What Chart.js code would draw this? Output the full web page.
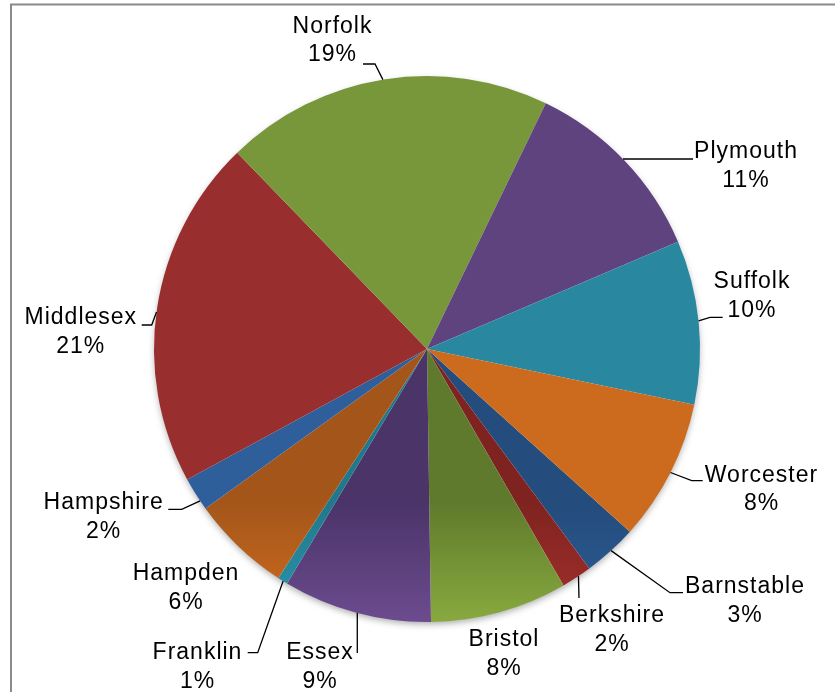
<!DOCTYPE html>
<html>
<head>
<meta charset="utf-8">
<script src="https://cdn.jsdelivr.net/npm/chart.js@4/dist/chart.umd.min.js"></script>
<style>
  html, body { margin: 0; padding: 0; background: #ffffff; }
  canvas { display: block; }
</style>
</head>
<body>
<canvas id="pie" width="835" height="692"></canvas>
<script>
// Share of total by county (percent)
const counties = ['Barnstable', 'Berkshire', 'Bristol', 'Essex', 'Franklin', 'Hampden',
                  'Hampshire', 'Middlesex', 'Norfolk', 'Plymouth', 'Suffolk', 'Worcester'];
const shares = [3.2, 1.8, 8.1, 8.8, 0.6, 5.9, 2.0, 20.7, 19.4, 11.4, 9.7, 8.4];

// Slice fills: [inner colour, rim colour] (first six are shaded toward the bottom)
const fills = [
  ['#244c7c', '#2d5d96'], ['#7f2320', '#a3302c'], ['#5f7a2c', '#88a93f'],
  ['#4a3468', '#6c4b8f'], ['#20788c', '#2b95ad'], ['#a4561a', '#cf6c1f'],
  ['#2e5f9b', '#2e5f9b'], ['#992e2e', '#992e2e'], ['#77973a', '#77973a'],
  ['#5f437e', '#5f437e'], ['#2988a0', '#2988a0'], ['#cc6b1d', '#cc6b1d']
];

// Label placement relative to the pie centre: text anchor (centre x, first baseline),
// angle (deg, clockwise from top) where the leader meets the rim, and leader bend points.
const labelLayout = [
  { text: [318, 244], touch: 137.6, path: [[243, 243.7], [256, 243.7]] },   // Barnstable
  { text: [185, 273], touch: 146.3, path: [[152, 249]] },                    // Berkshire
  { text: [77, 297],  touch: null,  path: [] },                              // Bristol
  { text: [-107, 310], touch: 194.8, path: [[-69.7, 304]] },                 // Essex
  { text: [-229.5, 310], touch: 211.8, path: [[-169.3, 303.7], [-179.3, 303.7]] }, // Franklin
  { text: [-241, 231], touch: null, path: [] },                              // Hampden
  { text: [-323.3, 160.3], touch: 236.2, path: [[-245.3, 160.3], [-258.7, 160.3]] }, // Hampshire
  { text: [-346.2, -24.7], touch: 277.8, path: [[-275.3, -24], [-285.3, -24]] },   // Middlesex
  { text: [-94.5, -316.3], touch: -9.3, path: [[-52, -285], [-64, -285]] },  // Norfolk
  { text: [319, -190.7], touch: 45.9, path: [[266, -190]] },                 // Plymouth
  { text: [325, -60.7], touch: 84.1, path: [[283, -31.7], [295.7, -31.7]] }, // Suffolk
  { text: [334.5, 132.7], touch: 116.9, path: [[264.7, 131.7], [275.7, 131.7]] }   // Worcester
];

const FONT = '23px "Liberation Sans", Arial, sans-serif';
const LINE_GAP = 28.5;

const frame = {
  id: 'frame',
  beforeDraw(chart) {
    const ctx = chart.ctx;
    ctx.save();
    ctx.strokeStyle = '#8a8a8a';
    ctx.lineWidth = 2;
    ctx.beginPath();
    ctx.moveTo(11, chart.height + 2);
    ctx.lineTo(11, 4.5);
    ctx.lineTo(chart.width + 2, 4.5);
    ctx.stroke();
    ctx.restore();
  }
};

const pieShadow = {
  id: 'pieShadow',
  beforeDatasetsDraw(chart) {
    const el = chart.getDatasetMeta(0).data[0];
    if (!el) return;
    const ctx = chart.ctx;
    ctx.save();
    ctx.beginPath();
    ctx.arc(el.x, el.y, el.outerRadius - 1, 0, Math.PI * 2);
    ctx.fillStyle = '#ffffff';
    ctx.shadowColor = 'rgba(0,0,0,0.35)';
    ctx.shadowBlur = 7;
    ctx.shadowOffsetY = 3;
    ctx.fill();
    ctx.restore();
  }
};

const sliceLabels = {
  id: 'sliceLabels',
  afterDatasetsDraw(chart) {
    const ctx = chart.ctx;
    const meta = chart.getDatasetMeta(0);
    const values = chart.data.datasets[0].data;
    const total = values.reduce((a, b) => a + b, 0);
    ctx.save();
    ctx.strokeStyle = '#000000';
    ctx.lineWidth = 1.3;
    ctx.fillStyle = '#000000';
    ctx.font = FONT;
    if ('letterSpacing' in ctx) ctx.letterSpacing = '1px';
    ctx.textAlign = 'center';
    ctx.textBaseline = 'alphabetic';
    meta.data.forEach((arc, i) => {
      const lay = labelLayout[i];
      const cx = arc.x, cy = arc.y, r = arc.outerRadius;
      if (lay.touch !== null) {
        const a = lay.touch * Math.PI / 180;
        ctx.beginPath();
        ctx.moveTo(cx + r * Math.sin(a), cy - r * Math.cos(a));
        lay.path.forEach(p => ctx.lineTo(cx + p[0], cy + p[1]));
        ctx.stroke();
      }
      const pct = Math.round(values[i] * 100 / total) + '%';
      const tx = cx + lay.text[0], ty = cy + lay.text[1];
      ctx.fillText(chart.data.labels[i], tx, ty);
      ctx.fillText(pct, tx, ty + LINE_GAP);
    });
    ctx.restore();
  }
};

function sliceFill(context) {
  const pair = fills[context.dataIndex];
  if (pair[0] === pair[1]) return pair[0];
  const area = context.chart.chartArea;
  if (!area) return pair[0];
  const g = context.chart.ctx.createLinearGradient(0, area.top, 0, area.bottom);
  g.addColorStop(0, pair[0]);
  g.addColorStop(0.78, pair[0]);
  g.addColorStop(1, pair[1]);
  return g;
}

new Chart(document.getElementById('pie'), {
  type: 'pie',
  data: {
    labels: counties,
    datasets: [{
      data: shares,
      backgroundColor: sliceFill,
      borderWidth: 0,
      hoverOffset: 0
    }]
  },
  options: {
    responsive: false,
    animation: false,
    rotation: 132,
    layout: { padding: { top: 76, bottom: 70, left: 154, right: 135 } },
    plugins: {
      legend: { display: false },
      tooltip: { enabled: false }
    },
    events: []
  },
  plugins: [frame, pieShadow, sliceLabels]
});
</script>
</body>
</html>
